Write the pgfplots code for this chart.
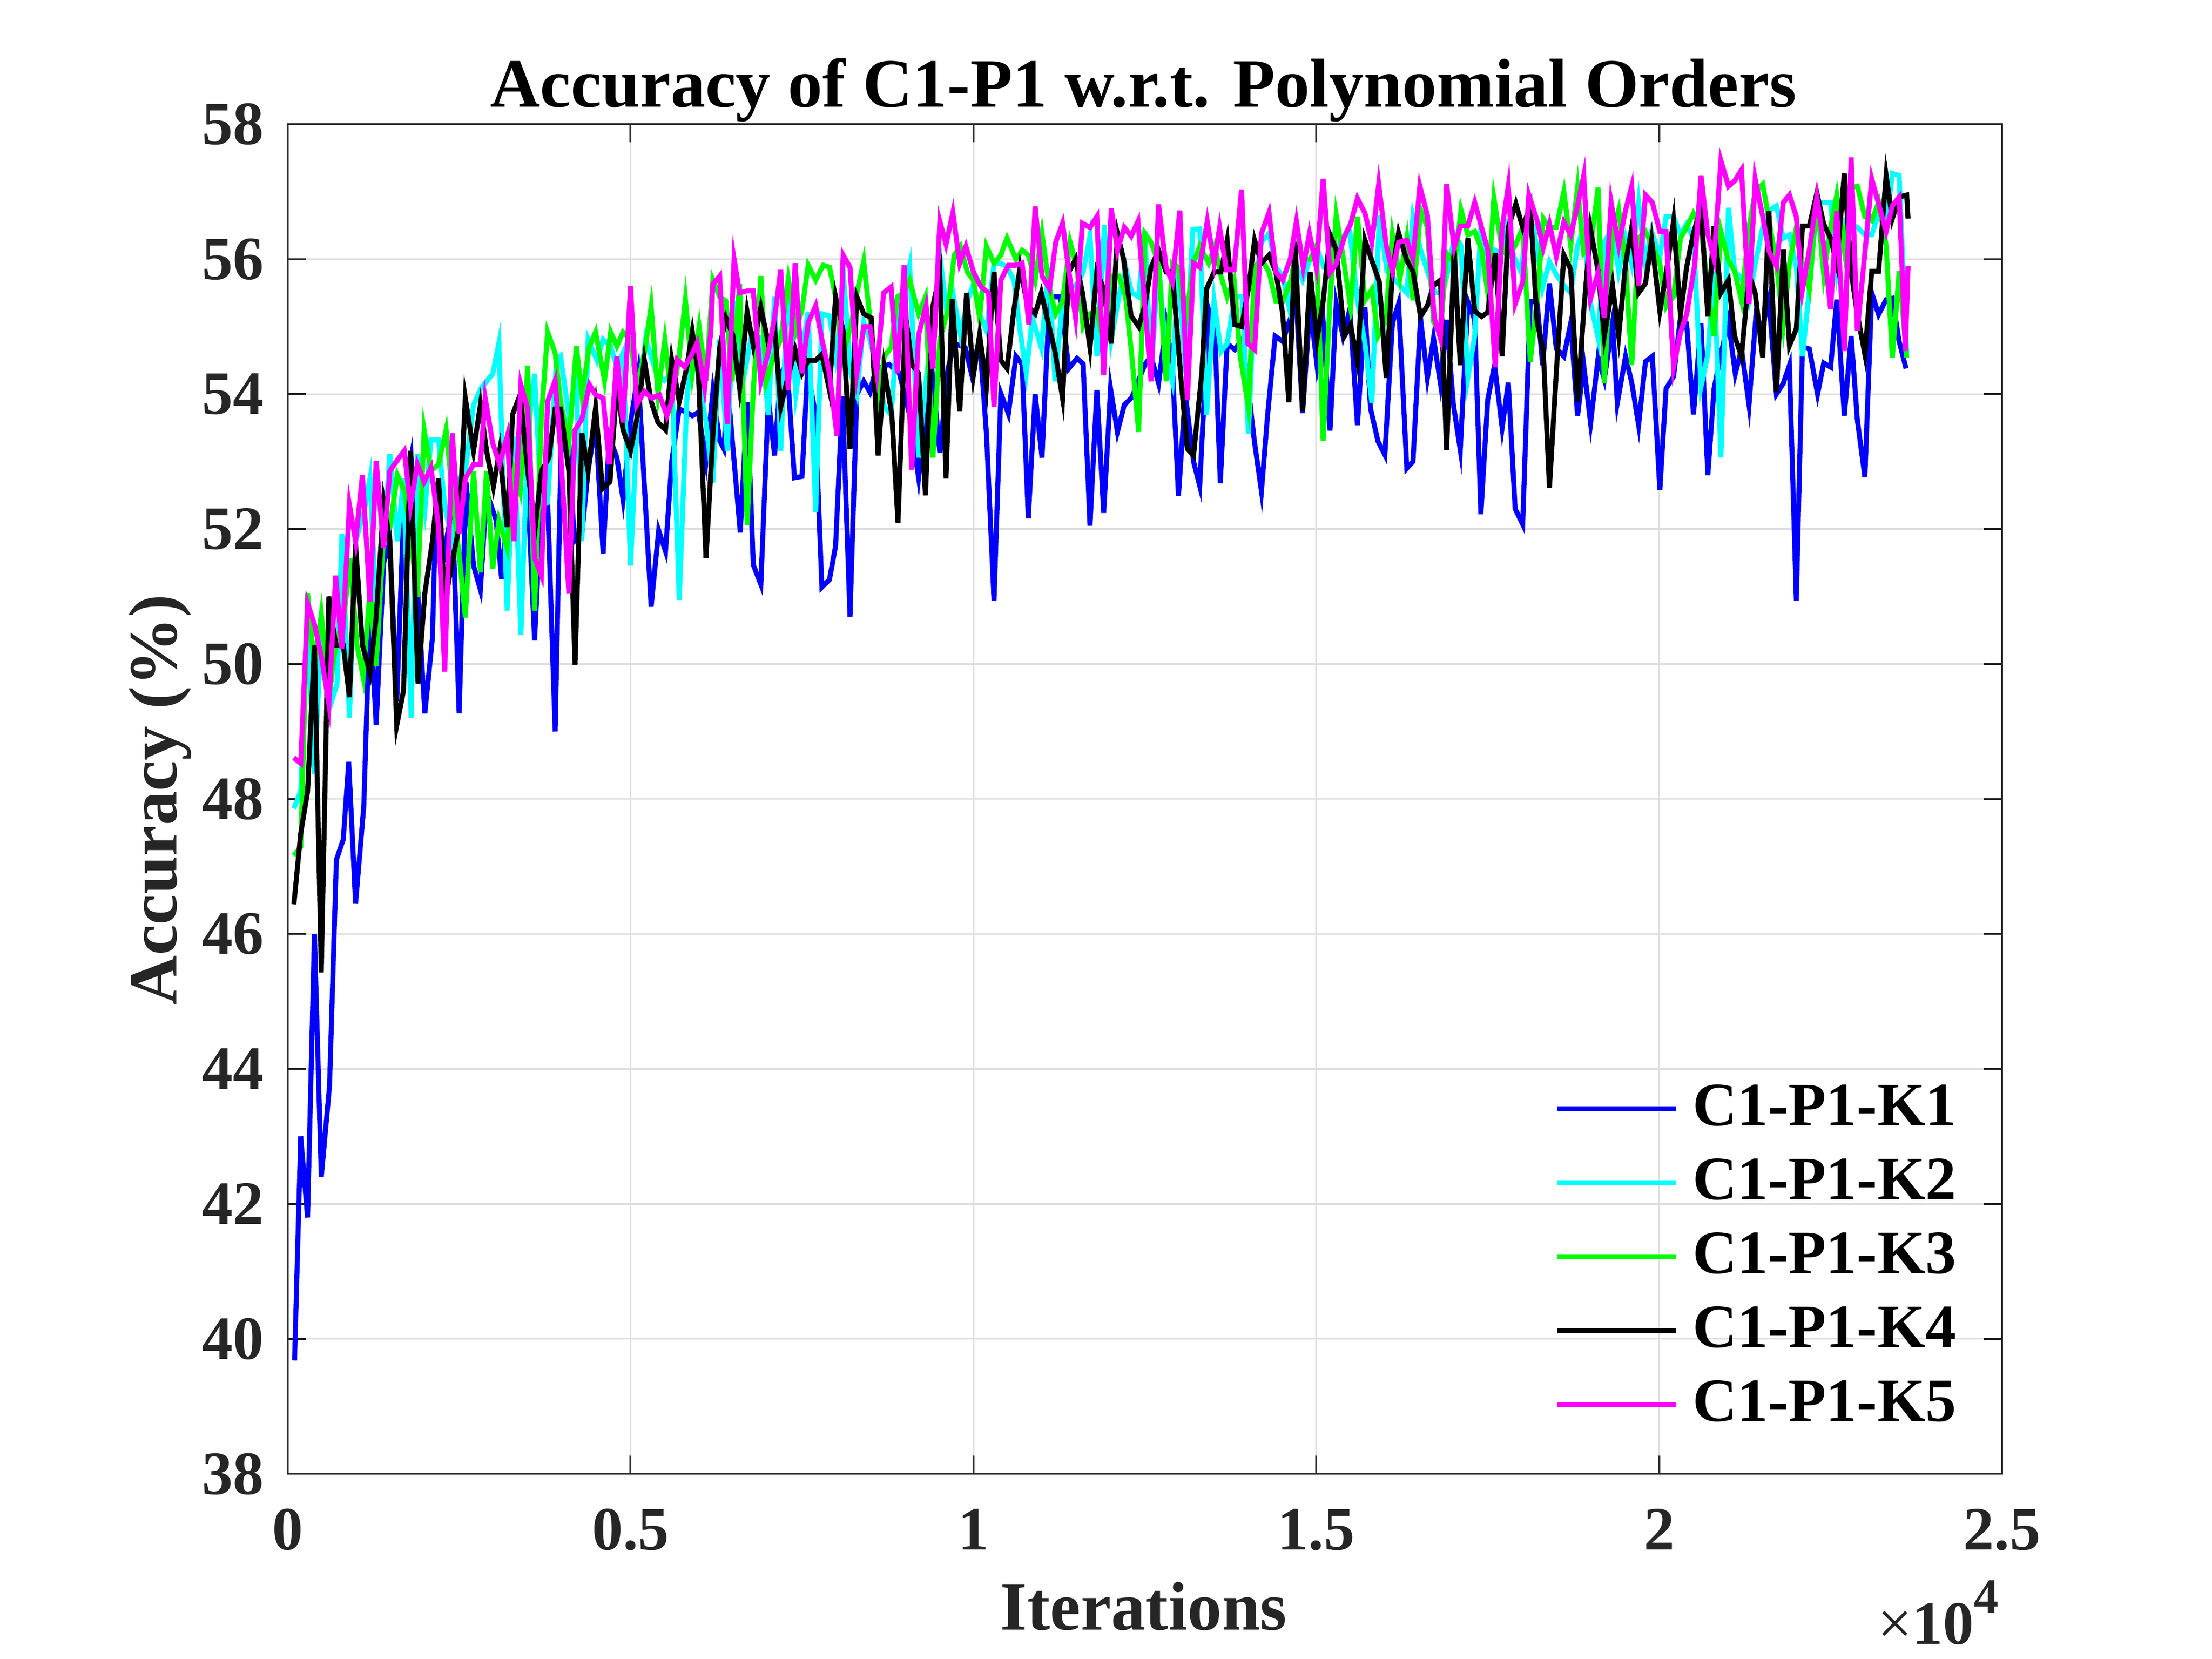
\documentclass[border=0pt]{standalone}
\usepackage{fontspec}
\setmainfont{Liberation Serif}
\usepackage{pgfplots}
\pgfplotsset{compat=1.18}
\definecolor{axgray}{RGB}{38,38,38}
\definecolor{gridgray}{RGB}{223,223,223}
\definecolor{mblue}{RGB}{0,0,255}
\definecolor{mcyan}{RGB}{0,255,255}
\definecolor{mgreen}{RGB}{0,255,0}
\definecolor{mmagenta}{RGB}{255,0,255}
\begin{document}
\begin{tikzpicture}
\path[use as bounding box] (-60.7pt,-39.05pt) rectangle (406pt,310.95pt);
\begin{axis}[
 at={(0,0)}, anchor=south west,
 scale only axis, width=361.7pt, height=284.75pt,
 xmin=0, xmax=25000, ymin=38, ymax=58,
 xtick={0,5000,10000,15000,20000,25000},
 xticklabels={0,0.5,1,1.5,2,2.5},
 ytick={38,40,42,44,46,48,50,52,54,56,58},
 yticklabels={38,40,42,44,46,48,50,52,54,56,58},
 scaled x ticks=false,
 tick align=inside, tick pos=both,
 major tick length=3.8pt,
 grid=major,
 major grid style={gridgray, line width=0.35pt},
 axis line style={axgray, line width=0.4pt},
 every tick/.style={axgray, line width=0.4pt},
 tick label style={font=\fontsize{13}{13}\selectfont\bfseries, text=axgray, inner sep=0pt},
 xticklabel style={anchor=north, yshift=-7.2pt},
 yticklabel style={anchor=east, xshift=-4.8pt},
 legend style={draw=none, fill=none, at={(0.7387,0.289)}, anchor=north west, inner sep=0pt, row sep=5.5pt, column sep=3pt, font=\fontsize{13}{13}\selectfont\bfseries, nodes={inner sep=0pt}},
 legend cell align=left,
 legend image code/.code={\draw[#1] (0pt,0pt) -- (25pt,0pt);},
 every axis plot/.append style={line width=1.05pt},
]
\addplot[color=mblue] coordinates {
(100,39.68)(190,43.0)(290,41.8)(390,46.0)(490,42.4)(610,43.75)(710,47.1)(810,47.4)(890,48.55)(990,46.45)(1110,47.9)(1200,50.85)(1290,49.1)(1400,51.5)(1490,51.8)(1590,49.45)(1700,52.5)(1800,53.06)(1910,50.8)(2000,49.27)(2110,50.38)(2150,51.9)(2260,51.5)(2400,52.34)(2500,49.27)(2600,52.7)(2710,51.46)(2810,51.1)(2900,52.55)(3040,52.13)(3120,51.26)(3210,52.34)(3390,52.86)(3480,53.06)(3600,50.35)(3700,52.44)(3790,52.44)(3900,49.0)(3990,53.37)(4100,53.27)(4180,51.82)(4290,51.93)(4380,52.86)(4490,53.58)(4600,51.64)(4690,53.37)(4800,53.06)(4890,52.44)(5000,53.58)(5110,54.3)(5300,50.85)(5410,51.98)(5510,51.67)(5600,53.0)(5710,53.78)(5820,53.73)(5900,53.68)(5990,53.73)(6100,53.0)(6200,54.03)(6300,53.31)(6360,53.19)(6420,54.06)(6600,51.95)(6700,53.88)(6790,51.47)(6900,51.18)(7010,53.94)(7100,53.09)(7190,54.31)(7280,54.44)(7390,52.76)(7500,52.78)(7580,54.33)(7690,53.75)(7790,51.14)(7900,51.25)(7990,51.75)(8090,53.97)(8200,50.7)(8300,54.0)(8400,54.19)(8490,54.03)(8580,54.38)(8770,54.44)(8920,54.31)(9070,53.69)(9200,52.76)(9300,53.69)(9410,54.19)(9510,53.13)(9630,54.38)(9720,54.75)(9880,54.69)(9970,54.31)(10090,54.81)(10190,53.41)(10300,50.94)(10400,54.01)(10510,53.71)(10620,54.56)(10710,54.44)(10800,52.16)(10900,54.0)(11000,53.06)(11110,55.44)(11270,55.44)(11390,54.38)(11510,54.53)(11600,54.45)(11700,52.05)(11800,54.06)(11900,52.24)(12000,54.08)(12100,53.44)(12200,53.84)(12310,53.95)(12500,54.44)(12590,54.56)(12700,54.16)(12810,55.03)(12900,54.44)(12990,52.49)(13090,54.0)(13210,53.0)(13300,52.64)(13430,55.25)(13520,54.94)(13600,52.68)(13700,54.75)(13810,54.66)(13920,54.81)(14010,54.06)(14100,53.28)(14200,52.56)(14290,53.69)(14400,54.86)(14510,54.78)(14600,55.06)(14710,55.34)(14800,53.72)(14910,55.31)(15010,54.43)(15100,55.06)(15200,53.46)(15290,55.34)(15390,54.86)(15490,55.26)(15600,53.54)(15710,55.29)(15790,53.79)(15900,53.3)(16000,53.1)(16110,55.05)(16200,55.34)(16320,52.9)(16410,53.0)(16520,55.13)(16620,54.24)(16710,54.83)(16810,54.16)(16900,55.1)(17000,53.84)(17100,53.17)(17210,55.37)(17310,55.1)(17400,52.22)(17500,53.92)(17600,54.43)(17710,53.5)(17800,54.17)(17900,52.3)(18010,52.07)(18120,55.37)(18220,55.37)(18300,54.43)(18400,55.64)(18500,54.67)(18610,54.56)(18710,55.05)(18810,53.68)(18900,54.43)(19000,53.57)(19110,54.54)(19200,54.22)(19320,55.05)(19390,53.87)(19510,54.56)(19600,54.17)(19700,53.54)(19800,54.48)(19900,54.56)(20010,52.58)(20100,54.08)(20210,54.26)(20310,55.13)(20400,55.05)(20500,53.7)(20610,55.05)(20710,52.8)(20800,54.08)(20900,54.59)(21010,55.08)(21110,54.3)(21200,54.67)(21310,53.84)(21410,55.15)(21500,54.97)(21600,55.4)(21710,54.0)(21810,54.16)(21900,54.43)(22000,50.94)(22090,54.7)(22190,54.67)(22310,54.0)(22400,54.46)(22500,54.4)(22590,55.4)(22700,53.68)(22800,54.86)(22890,53.62)(23000,52.77)(23100,55.5)(23200,55.18)(23310,55.4)(23400,55.42)(23500,54.78)(23600,54.38)
};
\addlegendentry{C1-P1-K1}
\addplot[color=mcyan] coordinates {
(90,47.86)(190,48.12)(290,50.59)(390,48.37)(490,50.48)(610,49.35)(720,49.71)(790,51.93)(900,49.2)(990,51.82)(1110,52.24)(1200,52.75)(1290,50.79)(1400,51.82)(1490,53.11)(1600,51.82)(1690,52.75)(1800,49.2)(1890,53.11)(2000,52.29)(2090,53.32)(2200,53.32)(2290,52.34)(2400,51.82)(2510,52.75)(2590,52.86)(2710,53.84)(2820,54.09)(2990,54.3)(3080,54.76)(3200,50.79)(3300,53.37)(3400,50.43)(3500,53.37)(3600,54.3)(3700,52.34)(3790,52.39)(3920,54.5)(3980,54.56)(4100,53.68)(4210,54.14)(4290,51.82)(4380,54.81)(4510,54.5)(4600,54.81)(4710,54.71)(4800,54.4)(4890,54.61)(5000,51.46)(5110,53.89)(5220,54.81)(5380,54.3)(5490,54.2)(5600,54.3)(5710,50.95)(5820,53.89)(5900,54.81)(6100,53.58)(6200,52.69)(6300,54.81)(6410,53.16)(6510,55.38)(6640,54.19)(6760,54.84)(6900,54.84)(7010,53.69)(7100,55.44)(7190,53.16)(7300,55.75)(7410,54.0)(7500,54.63)(7590,55.22)(7700,52.25)(7790,55.19)(7900,55.16)(7990,54.56)(8120,55.56)(8210,54.31)(8300,54.0)(8400,55.06)(8490,54.81)(8610,54.31)(8700,53.81)(8800,53.69)(8890,54.94)(8980,55.5)(9070,55.91)(9200,53.06)(9320,54.31)(9410,54.94)(9510,56.06)(9600,55.31)(9690,55.56)(9810,54.88)(9910,55.38)(10000,55.63)(10090,55.19)(10190,54.94)(10300,55.94)(10400,55.94)(10490,55.88)(10590,55.69)(10680,54.94)(10770,54.31)(10860,55.13)(10990,54.69)(11100,55.88)(11190,54.19)(11300,55.38)(11390,55.56)(11510,55.63)(11600,55.81)(11700,56.34)(11800,54.56)(11910,56.5)(12010,54.81)(12120,55.44)(12220,55.88)(12310,55.5)(12410,55.44)(12500,56.41)(12590,54.31)(12700,55.94)(12810,54.56)(12900,54.19)(12990,55.88)(13090,54.31)(13200,56.44)(13300,56.45)(13400,53.69)(13510,55.38)(13610,54.63)(13700,54.75)(13810,55.44)(13920,55.44)(14010,53.41)(14100,55.56)(14200,56.25)(14310,56.38)(14410,55.88)(14510,55.75)(14600,55.31)(14690,55.94)(14800,55.69)(14910,56.0)(15000,56.19)(15110,55.88)(15260,55.88)(15360,56.31)(15490,56.39)(15600,55.39)(15710,54.75)(15810,53.87)(15920,56.65)(16030,55.82)(16120,55.72)(16220,55.61)(16320,55.5)(16410,56.63)(16520,56.14)(16620,55.82)(16730,55.5)(16840,55.5)(16920,55.82)(17020,56.36)(17110,56.2)(17210,54.24)(17310,54.86)(17400,56.47)(17500,56.04)(17590,56.14)(17690,56.09)(17780,56.47)(17880,56.04)(17980,55.82)(18070,56.41)(18170,56.47)(18300,55.58)(18400,55.96)(18500,55.77)(18610,55.61)(18710,55.5)(18810,56.2)(18900,56.47)(19000,55.34)(19110,54.83)(19200,56.25)(19320,56.47)(19410,55.82)(19510,56.31)(19600,55.93)(19700,56.84)(19800,55.93)(19890,56.41)(20010,56.04)(20100,56.63)(20210,56.63)(20310,56.36)(20400,56.52)(20500,56.31)(20610,54.11)(20710,54.59)(20800,55.82)(20900,53.06)(21010,56.76)(21100,55.82)(21200,55.72)(21310,55.39)(21400,55.93)(21510,56.47)(21620,56.73)(21710,56.79)(21810,56.31)(21900,56.36)(22000,55.88)(22090,54.56)(22190,55.55)(22300,56.84)(22400,56.84)(22500,56.84)(22590,55.82)(22700,56.57)(22800,56.52)(22890,56.47)(23000,56.36)(23100,56.36)(23200,56.68)(23310,56.47)(23400,57.27)(23500,57.24)(23610,54.6)
};
\addlegendentry{C1-P1-K2}
\addplot[color=mgreen] coordinates {
(90,47.16)(190,47.29)(290,51.05)(390,49.97)(490,50.74)(610,49.56)(710,50.38)(810,50.59)(910,51.57)(1010,50.28)(1100,49.81)(1200,51.1)(1290,49.97)(1400,51.93)(1490,52.03)(1600,52.8)(1710,52.55)(1800,51.82)(1890,51.0)(1990,53.47)(2090,52.86)(2200,52.96)(2310,53.47)(2420,52.34)(2510,51.52)(2590,50.69)(2710,52.86)(2810,51.36)(2900,52.86)(2990,51.41)(3080,52.13)(3200,51.72)(3300,52.86)(3390,52.55)(3500,54.42)(3600,50.79)(3700,53.68)(3790,54.92)(3900,54.61)(3980,53.89)(4100,53.27)(4210,54.71)(4290,53.99)(4400,54.71)(4490,54.92)(4620,54.2)(4710,54.92)(4800,54.71)(4890,54.92)(5000,54.81)(5090,54.09)(5200,54.6)(5300,55.3)(5400,54.0)(5500,54.8)(5600,53.9)(5700,54.5)(5800,55.4)(5900,54.3)(6000,55.0)(6100,54.2)(6200,55.69)(6300,55.44)(6390,55.38)(6480,54.19)(6590,55.63)(6700,52.06)(6790,54.06)(6900,55.75)(6980,54.19)(7090,54.56)(7190,54.81)(7300,55.69)(7410,54.94)(7500,55.25)(7590,55.91)(7700,55.69)(7810,55.91)(7900,55.88)(7990,55.44)(8090,54.56)(8210,55.0)(8300,55.5)(8400,55.97)(8510,54.94)(8610,53.94)(8700,54.56)(8800,54.69)(8890,55.44)(8980,55.5)(9070,55.69)(9200,55.19)(9300,55.44)(9410,53.06)(9510,54.81)(9630,55.25)(9720,56.06)(9810,56.19)(9910,55.81)(10000,55.69)(10090,55.13)(10190,56.19)(10300,55.94)(10400,56.06)(10490,56.31)(10620,56.0)(10710,56.13)(10800,56.06)(10900,55.69)(11000,56.38)(11110,55.56)(11200,55.19)(11300,55.38)(11410,56.25)(11510,55.88)(11600,55.0)(11700,55.19)(11800,55.25)(11910,54.69)(12010,55.75)(12120,55.75)(12220,55.44)(12310,54.56)(12410,53.44)(12500,56.38)(12590,56.25)(12700,55.94)(12810,54.19)(12900,55.94)(12990,55.88)(13090,55.06)(13210,55.94)(13300,56.19)(13430,55.94)(13520,56.19)(13610,55.75)(13700,55.44)(13800,55.69)(13890,54.56)(14010,53.81)(14100,55.88)(14200,56.0)(14310,55.81)(14410,55.38)(14510,55.38)(14630,55.69)(14720,56.19)(14810,56.0)(14910,56.0)(15000,56.19)(15100,53.31)(15200,55.39)(15290,56.65)(15390,56.04)(15500,55.29)(15600,56.63)(15710,55.39)(15810,55.55)(15900,54.86)(16010,55.07)(16110,56.36)(16220,55.72)(16320,56.31)(16410,55.39)(16520,56.73)(16620,56.47)(16710,55.07)(16810,54.91)(16900,56.09)(17020,55.93)(17110,56.73)(17210,56.36)(17310,56.41)(17410,56.14)(17500,55.5)(17590,56.9)(17710,56.14)(17800,56.04)(17900,56.2)(18010,56.47)(18120,54.48)(18220,55.39)(18310,56.6)(18400,56.47)(18500,56.47)(18610,57.0)(18710,56.2)(18810,57.06)(18900,56.09)(19000,56.2)(19110,57.06)(19200,54.16)(19320,56.41)(19410,56.73)(19510,55.93)(19600,54.43)(19700,56.31)(19800,56.41)(19900,56.2)(20010,55.93)(20100,55.29)(20210,55.45)(20310,56.31)(20400,56.47)(20500,56.68)(20610,56.47)(20710,55.55)(20800,54.86)(20900,56.41)(21010,55.98)(21100,55.82)(21200,55.39)(21310,56.47)(21400,57.0)(21510,57.11)(21620,56.47)(21710,55.93)(21810,55.02)(21900,55.93)(22000,56.47)(22090,55.93)(22190,55.55)(22300,56.9)(22400,55.77)(22500,56.47)(22590,56.95)(22700,56.14)(22800,57.06)(22890,57.08)(23000,56.63)(23100,56.57)(23200,56.84)(23310,56.2)(23400,54.54)(23500,55.82)(23610,54.54)
};
\addlegendentry{C1-P1-K3}
\addplot[color=black] coordinates {
(90,46.44)(190,47.49)(290,48.11)(390,50.28)(490,45.43)(600,51.0)(700,50.28)(810,50.28)(900,49.51)(990,51.77)(1090,50.28)(1200,49.87)(1290,50.69)(1400,52.39)(1490,51.82)(1590,49.09)(1690,49.61)(1790,53.16)(1900,49.71)(2000,51.05)(2110,51.82)(2200,52.75)(2290,50.9)(2400,51.52)(2500,52.03)(2590,53.94)(2710,53.16)(2810,53.84)(2900,53.16)(3000,52.63)(3090,53.16)(3200,52.03)(3280,53.7)(3390,53.99)(3500,52.86)(3610,52.03)(3700,52.86)(3810,53.06)(3900,53.78)(3980,53.78)(4100,52.86)(4190,49.99)(4290,53.42)(4380,52.86)(4490,53.8)(4590,52.6)(4700,52.7)(4800,54.14)(4890,53.47)(5000,53.16)(5100,53.68)(5200,54.51)(5300,53.89)(5400,53.58)(5510,53.47)(5600,54.51)(5710,53.89)(5820,54.4)(5900,54.92)(5990,54.3)(6100,51.57)(6200,53.38)(6300,54.69)(6390,55.13)(6490,54.88)(6590,54.09)(6700,55.22)(6790,54.72)(6900,55.28)(7010,54.75)(7100,55.0)(7190,53.81)(7280,54.19)(7400,54.66)(7500,54.31)(7590,54.5)(7700,54.5)(7790,54.59)(7900,54.06)(7990,55.44)(8100,54.94)(8200,53.19)(8300,55.44)(8400,55.19)(8510,55.13)(8610,53.09)(8700,54.38)(8810,53.69)(8900,52.09)(9010,55.19)(9100,54.44)(9200,54.31)(9300,52.5)(9410,55.31)(9510,55.78)(9600,52.75)(9690,55.41)(9800,53.75)(9900,55.5)(10000,54.28)(10090,54.88)(10190,54.13)(10300,55.81)(10400,54.5)(10490,54.38)(10590,55.25)(10680,55.88)(10790,55.31)(10900,55.19)(10990,55.5)(11090,55.06)(11190,54.63)(11300,53.94)(11390,55.81)(11490,56.0)(11590,55.5)(11700,54.69)(11800,55.81)(11900,55.56)(12010,54.75)(12100,56.38)(12190,56.0)(12300,55.16)(12410,55.0)(12500,55.31)(12590,55.88)(12700,56.13)(12810,55.81)(12900,55.81)(13030,54.19)(13120,53.19)(13210,53.09)(13330,54.31)(13400,55.56)(13510,55.81)(13610,55.81)(13700,56.28)(13810,55.03)(13910,55.0)(14010,55.56)(14100,56.28)(14200,55.94)(14310,56.06)(14410,55.81)(14510,55.19)(14600,53.88)(14690,56.25)(14800,53.75)(14910,55.81)(15010,54.81)(15100,55.38)(15200,56.36)(15290,56.14)(15410,54.86)(15500,55.02)(15600,54.48)(15710,56.28)(15810,55.98)(15920,55.66)(16020,54.24)(16110,55.82)(16200,56.39)(16320,55.98)(16410,55.82)(16520,55.15)(16620,55.31)(16710,55.61)(16810,55.69)(16900,53.17)(17010,56.14)(17100,54.43)(17210,56.31)(17310,55.23)(17410,55.15)(17500,55.21)(17610,56.09)(17710,54.56)(17800,56.47)(17910,56.82)(18010,56.47)(18120,56.79)(18220,55.07)(18310,54.64)(18400,52.61)(18500,54.32)(18610,56.06)(18710,55.85)(18810,53.89)(18900,55.23)(19000,56.44)(19110,55.82)(19200,54.86)(19320,55.61)(19410,54.86)(19510,55.93)(19600,56.47)(19700,55.5)(19800,55.64)(19890,56.28)(20010,55.23)(20100,55.77)(20210,56.57)(20310,55.18)(20400,55.88)(20500,56.39)(20610,56.76)(20710,55.15)(20800,56.49)(20900,55.5)(21010,55.69)(21100,54.86)(21200,54.56)(21310,55.77)(21400,55.5)(21510,54.54)(21600,56.71)(21710,54.03)(21810,56.14)(21900,54.72)(22000,54.97)(22090,56.49)(22190,56.49)(22300,56.98)(22400,56.52)(22500,56.31)(22590,55.93)(22700,57.27)(22800,55.82)(22890,55.18)(23000,54.59)(23100,55.82)(23200,55.82)(23310,57.24)(23400,56.6)(23500,56.92)(23610,56.95)(23630,56.6)
};
\addlegendentry{C1-P1-K4}
\addplot[color=mmagenta] coordinates {
(90,48.61)(190,48.53)(290,50.9)(390,50.59)(490,50.12)(600,49.4)(700,51.31)(790,50.23)(900,52.36)(990,51.82)(1090,52.8)(1200,50.92)(1290,53.01)(1400,51.72)(1490,52.86)(1590,53.01)(1700,53.16)(1790,52.34)(1890,52.96)(1990,52.7)(2090,52.91)(2200,52.03)(2290,49.89)(2400,53.42)(2500,51.93)(2590,52.75)(2710,52.96)(2810,52.96)(2880,53.94)(2990,53.27)(3090,52.96)(3200,53.37)(3300,51.82)(3400,54.14)(3500,53.78)(3600,51.57)(3700,51.31)(3790,53.89)(3900,54.2)(3980,53.16)(4100,51.05)(4190,53.47)(4290,53.63)(4400,54.14)(4490,53.99)(4600,53.94)(4690,52.96)(4800,54.56)(4890,53.58)(5000,55.6)(5090,53.84)(5200,54.04)(5310,53.94)(5420,53.99)(5530,53.68)(5600,53.89)(5680,54.51)(5790,54.4)(5880,54.56)(5970,54.76)(6080,54.09)(6170,54.92)(6200,55.63)(6300,55.75)(6410,53.56)(6510,56.0)(6590,55.5)(6700,55.53)(6790,55.53)(6900,54.19)(7010,54.63)(7100,55.13)(7190,55.84)(7300,54.06)(7400,55.94)(7500,54.31)(7590,55.06)(7700,55.31)(7790,54.81)(7900,54.31)(8010,53.38)(8100,56.06)(8200,55.88)(8300,54.31)(8400,55.0)(8490,55.0)(8590,54.31)(8690,55.5)(8800,55.59)(8890,54.31)(8990,55.91)(9100,52.88)(9200,54.88)(9310,55.31)(9410,54.38)(9510,56.56)(9600,56.22)(9700,56.69)(9800,55.94)(9890,56.19)(10000,55.81)(10110,55.59)(10220,55.5)(10300,53.81)(10400,55.69)(10510,55.91)(10620,55.91)(10710,55.94)(10810,55.03)(10900,56.78)(11000,55.75)(11110,55.56)(11200,56.25)(11300,56.53)(11410,55.69)(11490,55.13)(11590,56.53)(11700,56.47)(11800,56.63)(11900,54.28)(12010,56.75)(12100,56.13)(12200,56.47)(12300,56.34)(12400,56.56)(12500,55.31)(12590,54.19)(12700,56.81)(12810,55.88)(12900,55.66)(13010,56.72)(13120,53.91)(13210,55.94)(13300,55.88)(13410,56.56)(13510,55.94)(13590,56.47)(13690,55.84)(13800,55.84)(13910,57.03)(14000,54.75)(14100,54.66)(14200,56.38)(14310,56.69)(14410,55.81)(14510,55.69)(14620,56.0)(14710,56.56)(14810,55.88)(14900,56.38)(15000,55.88)(15100,57.19)(15200,55.8)(15290,55.93)(15420,56.36)(15500,56.52)(15600,56.9)(15710,56.68)(15810,56.25)(15910,57.11)(16020,56.2)(16110,55.82)(16200,56.25)(16320,56.28)(16410,56.01)(16510,57.08)(16620,56.65)(16720,55.13)(16810,54.83)(16900,57.11)(17010,56.17)(17100,56.49)(17210,56.49)(17310,56.84)(17410,56.47)(17500,56.14)(17610,54.4)(17710,56.47)(17800,57.08)(17900,55.34)(18010,55.66)(18100,56.95)(18220,56.57)(18310,56.17)(18400,56.52)(18500,56.04)(18610,56.55)(18710,56.36)(18810,56.79)(18900,57.24)(19000,55.42)(19110,55.8)(19200,55.13)(19300,56.84)(19410,56.2)(19510,56.73)(19600,57.08)(19700,55.61)(19800,56.95)(19900,56.84)(20010,56.41)(20100,56.41)(20210,54.4)(20310,54.91)(20400,55.18)(20520,55.93)(20610,57.24)(20710,56.36)(20800,56.01)(20900,57.46)(21010,57.08)(21100,57.16)(21200,57.32)(21310,55.34)(21400,57.19)(21510,56.63)(21600,56.12)(21710,55.9)(21810,56.84)(21900,56.95)(22000,56.63)(22090,55.55)(22190,56.14)(22300,56.92)(22400,56.2)(22500,55.26)(22590,56.71)(22700,54.64)(22800,57.51)(22890,54.94)(23000,56.09)(23100,57.19)(23200,56.82)(23310,56.41)(23400,56.79)(23500,56.92)(23590,54.64)(23630,55.9)
};
\addlegendentry{C1-P1-K5}
\end{axis}
\node[anchor=base, font=\fontsize{14.6}{14.6}\selectfont\bfseries] at (180.5pt,288.35pt) {Accuracy of C1-P1 w.r.t. Polynomial Orders};
\node[anchor=base, text=axgray, font=\fontsize{14.5}{14.5}\selectfont\bfseries] at (180.6pt,-32.95pt) {Iterations};
\node[anchor=base, rotate=90, text=axgray, font=\fontsize{14.5}{14.5}\selectfont\bfseries] at (-23.4pt,142.2pt) {Accuracy (\%)};
\node[anchor=base east, inner sep=0pt, text=axgray, font=\fontsize{13}{13}\selectfont] at (361.2pt,-35.95pt) {×\textbf{10}\raisebox{6.5pt}{\fontsize{10.5}{10.5}\selectfont\textbf{4}}};
\end{tikzpicture}
\end{document}
